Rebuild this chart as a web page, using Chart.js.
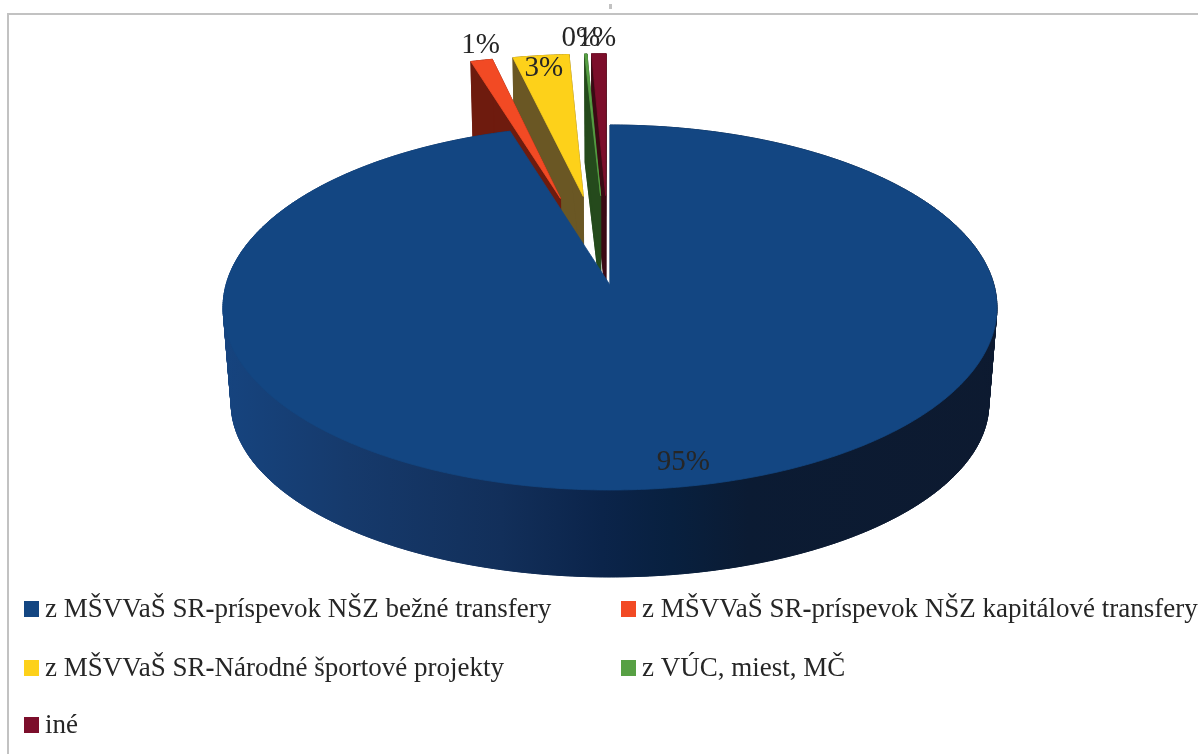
<!DOCTYPE html>
<html>
<head>
<meta charset="utf-8">
<style>
  html, body { margin: 0; padding: 0; background: #fff; }
  #wrap { width: 1198px; height: 754px; }
</style>
<script src="https://cdn.jsdelivr.net/npm/chart.js@4"></script>
</head>
<body>
<div id="wrap"><canvas id="pieChart" width="1198" height="754"></canvas></div>
<script>
const categories = [
    'z MŠVVaŠ SR-príspevok NŠZ bežné transfery',
    'z MŠVVaŠ SR-príspevok NŠZ kapitálové transfery',
    'z MŠVVaŠ SR-Národné športové projekty',
    'z VÚC, miest, MČ',
    'iné'
];
const shares = [95.3, 1.08, 2.78, 0.12, 0.72];
const topColors = ['#134682', '#f24a24', '#fdd11a', '#57a044', '#7c0e2b'];
const wallColors = ['#0b2447', '#6e1b0e', '#6a5724', '#254a1c', '#3a0a14'];
const exploded = [0, 0.53, 0.53, 0.53, 0.53];

const fontFamily = '"Liberation Serif", serif';
const textColor = '#262626';

// the picture is a 3D pie with perspective, so the arcs Chart.js lays out are re-projected
const tilt = 0.468;
const perspective = 0.1233;
const floorDrop = 97;
const floorScale = 0.979;
const floorTilt = 0.445;

function project(arc, u, v, level) {
    const s = 1 / (1 - perspective * v);
    if (level === 0) {
        return [arc.x + arc.outerRadius * u * s, arc.y + arc.outerRadius * tilt * v * s];
    }
    return [
        arc.x + arc.outerRadius * floorScale * u * s,
        arc.y + floorDrop + arc.outerRadius * floorTilt * v * s
    ];
}

function arcPoints(arc, shift, level) {
    const mid = (arc.startAngle + arc.endAngle) / 2;
    const du = Math.cos(mid) * shift;
    const dv = Math.sin(mid) * shift;
    const steps = Math.max(2, Math.ceil((arc.endAngle - arc.startAngle) / 0.01));
    const points = [];
    for (let i = 0; i <= steps; i++) {
        const a = arc.startAngle + (arc.endAngle - arc.startAngle) * i / steps;
        points.push(project(arc, Math.cos(a) + du, Math.sin(a) + dv, level));
    }
    return { points, tip: project(arc, du, dv, level) };
}

function fillPoly(ctx, points, style) {
    ctx.beginPath();
    points.forEach((p, i) => i ? ctx.lineTo(p[0], p[1]) : ctx.moveTo(p[0], p[1]));
    ctx.closePath();
    ctx.fillStyle = style;
    ctx.fill();
    ctx.strokeStyle = style;
    ctx.lineWidth = 0.8;
    ctx.stroke();
}

function drawSlice(ctx, arc, index, wallStyle) {
    const top = arcPoints(arc, exploded[index], 0);
    const floor = arcPoints(arc, exploded[index], 1);

    fillPoly(ctx, [floor.tip, ...floor.points], wallStyle);
    for (let i = 0; i < top.points.length - 1; i++) {
        fillPoly(ctx, [top.points[i], top.points[i + 1], floor.points[i + 1], floor.points[i]], wallStyle);
    }
    if (index > 0) {
        const last = top.points.length - 1;
        fillPoly(ctx, [top.tip, top.points[0], floor.points[0], floor.tip], wallStyle);
        fillPoly(ctx, [top.tip, top.points[last], floor.points[last], floor.tip], wallStyle);
    }
    fillPoly(ctx, [top.tip, ...top.points], topColors[index]);
}

const pie3d = {
    id: 'pie3d',
    beforeDatasetsDraw(chart) {
        const ctx = chart.ctx;
        const arcs = chart.getDatasetMeta(0).data;

        const sideGradient = ctx.createLinearGradient(223, 0, 996, 0);
        sideGradient.addColorStop(0, '#16447f');
        sideGradient.addColorStop(0.16, '#163a6c');
        sideGradient.addColorStop(0.36, '#122f5a');
        sideGradient.addColorStop(0.49, '#0b244a');
        sideGradient.addColorStop(0.58, '#08203f');
        sideGradient.addColorStop(0.68, '#0b1b33');
        sideGradient.addColorStop(1, '#0d1a30');

        ctx.save();
        [4, 3, 2, 1, 0].forEach(i => {
            drawSlice(ctx, arcs[i], i, i === 0 ? sideGradient : wallColors[i]);
        });
        ctx.restore();
        return false;
    },
    afterDraw(chart) {
        const ctx = chart.ctx;
        const arcs = chart.getDatasetMeta(0).data;
        const total = shares.reduce((a, b) => a + b, 0);

        ctx.save();
        // page frame from the scanned document
        ctx.fillStyle = '#c2c2c2';
        ctx.fillRect(7, 13, 1191, 2);
        ctx.fillRect(7, 13, 2, 741);
        ctx.fillRect(609, 4, 3, 5);

        // data labels, nudged from the outer edge of their slice
        const labelNudge = [[9, -25], [-1, -15], [3, 13], [-5, -16], [-2, -15]];
        ctx.font = '29px ' + fontFamily;
        ctx.fillStyle = textColor;
        ctx.textAlign = 'center';
        ctx.textBaseline = 'middle';
        arcs.forEach((arc, i) => {
            const mid = (arc.startAngle + arc.endAngle) / 2;
            const r = 1 + exploded[i];
            const p = project(arc, Math.cos(mid) * r, Math.sin(mid) * r, 0);
            const text = Math.round(shares[i] / total * 100) + '%';
            ctx.fillText(text, p[0] + labelNudge[i][0], p[1] + labelNudge[i][1]);
        });

        // two-column legend
        const columns = [24, 621];
        const rows = [609, 668, 725];
        ctx.textAlign = 'left';
        categories.forEach((label, i) => {
            const x = columns[i % 2];
            const y = rows[Math.floor(i / 2)];
            ctx.fillStyle = topColors[i];
            ctx.fillRect(x, y - 8, 15, 16);
            ctx.fillStyle = textColor;
            let cursor = x + 21;
            label.split('-').forEach((part, n) => {
                if (n > 0) {
                    ctx.font = 'bold 27px ' + fontFamily;
                    ctx.fillText('-', cursor, y + 1);
                    cursor += ctx.measureText('-').width;
                }
                ctx.font = '27px ' + fontFamily;
                ctx.fillText(part, cursor, y + 1);
                cursor += ctx.measureText(part).width;
            });
        });
        ctx.restore();
    }
};

document.addEventListener('DOMContentLoaded', function () {
    const chartElement = document.getElementById('pieChart');
    new Chart(chartElement.getContext('2d'), {
        type: 'pie',
        data: {
            labels: categories,
            datasets: [{
                data: shares,
                backgroundColor: topColors,
                borderWidth: 0,
                radius: 384
            }]
        },
        options: {
            responsive: false,
            animation: false,
            layout: { padding: { left: 22, bottom: 184 } },
            plugins: {
                legend: { display: false },
                tooltip: { enabled: false }
            }
        },
        plugins: [pie3d]
    });
});
</script>
</body>
</html>
